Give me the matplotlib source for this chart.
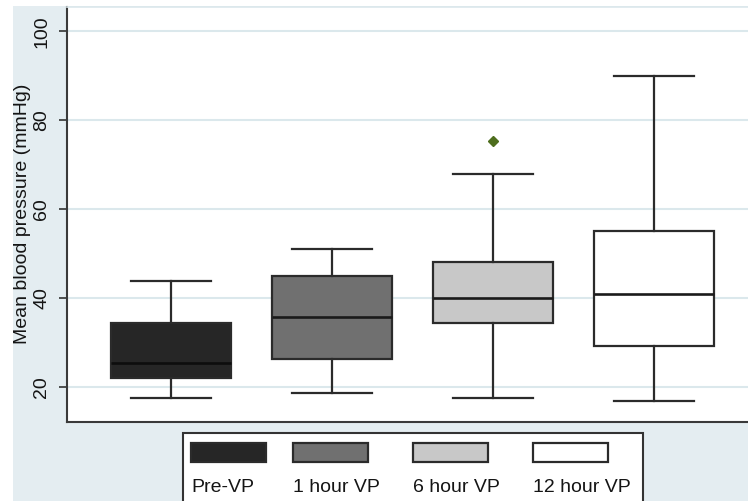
import matplotlib
matplotlib.use("Agg")
import matplotlib.pyplot as plt
from matplotlib.patches import Rectangle

# ---- data ----
categories = ["Pre-VP", "1 hour VP", "6 hour VP", "12 hour VP"]
whisker_low = [17.7, 18.8, 17.7, 17.0]
q1 = [22.1, 26.3, 34.4, 29.3]
median = [25.5, 35.9, 40.0, 41.0]
q3 = [34.4, 45.1, 48.2, 55.2]
whisker_high = [44.0, 51.0, 68.0, 90.0]
outliers = [[], [], [75.3], []]
yticks = [20, 40, 60, 80, 100]

# ---- styles ----
fills = ["#262626", "#707070", "#c8c8c8", "#ffffff"]
edge = "#2b2b2b"
bg = "#e4edf1"
grid_c = "#dbe8ec"
text_c = "#151515"
W, H = 748, 501

plt.rcParams["font.family"] = ["Liberation Sans", "DejaVu Sans"]
plt.rcParams["font.size"] = 14

fig = plt.figure(figsize=(W / 100, H / 100), dpi=100, facecolor="white")
# light blue graph region
fig.add_artist(Rectangle((13 / W, 0), 1 - 13 / W, (H - 6) / H,
                         transform=fig.transFigure, facecolor=bg,
                         edgecolor="none", zorder=-10))

ax_l, ax_r, ax_t, ax_b = 66.7, 748, 6.5, 421.7
ax = fig.add_axes([ax_l / W, (H - ax_b) / H, (ax_r - ax_l) / W, (ax_b - ax_t) / H])
ax.set_facecolor("white")

stats = []
for i, c in enumerate(categories):
    stats.append(dict(label=c, whislo=whisker_low[i], q1=q1[i], med=median[i],
                      q3=q3[i], whishi=whisker_high[i], fliers=outliers[i]))

positions = list(range(1, len(categories) + 1))
bp = ax.bxp(stats, positions=positions, widths=0.75, capwidths=0.5,
            patch_artist=True, showfliers=True,
            boxprops=dict(edgecolor=edge, linewidth=1.6),
            medianprops=dict(color="#1a1a1a", linewidth=1.9),
            whiskerprops=dict(color=edge, linewidth=1.6),
            capprops=dict(color=edge, linewidth=1.6),
            flierprops=dict(marker="D", markersize=5.5, markerfacecolor="#4e6e1e",
                            markeredgecolor="#4e6e1e"))
for patch, f in zip(bp["boxes"], fills):
    patch.set_facecolor(f)
bp["medians"][0].set_color("#0d0d0d")

ax.set_xlim(0.352, 4.584)
ax.set_ylim(12.3, 105.6)
ax.set_xticks([])
ax.set_yticks(yticks)
ax.set_yticklabels([str(t) for t in yticks])
ax.yaxis.grid(True, color=grid_c, linewidth=1.5)
ax.set_axisbelow(True)
ax.tick_params(axis="y", length=6, width=1.2, color="#333333", pad=6,
               labelrotation=90, labelcolor=text_c)
for lbl in ax.get_yticklabels():
    lbl.set_va("center")
ax.set_ylabel("Mean blood pressure (mmHg)", color=text_c, labelpad=1.5)

ax.spines["left"].set_color("#3a3a3a")
ax.spines["left"].set_linewidth(1.5)
ax.spines["bottom"].set_color("#3a3a3a")
ax.spines["bottom"].set_linewidth(1.5)
ax.spines["top"].set_color(grid_c)
ax.spines["top"].set_linewidth(1.2)
ax.spines["right"].set_visible(False)

# ---- legend (patches above labels, Stata style) ----
leg_left, leg_right, leg_top = 182.7, 643, 433
fig.add_artist(Rectangle((leg_left / W, -0.05), (leg_right - leg_left) / W,
                         (H - leg_top) / H + 0.05, transform=fig.transFigure,
                         facecolor="white", edgecolor="#333333", linewidth=1.5))
col_x = [191, 293, 413, 533]
key_w, key_top, key_bot = 74.5, 443, 462
for cx, f, c in zip(col_x, fills, categories):
    fig.add_artist(Rectangle((cx / W, (H - key_bot) / H), key_w / W,
                             (key_bot - key_top) / H, transform=fig.transFigure,
                             facecolor=f, edgecolor=edge, linewidth=1.6))
    fig.text(cx / W, (H - 492) / H, c, ha="left", va="baseline",
             color=text_c, fontsize=14)

fig.savefig("out.png", dpi=100, facecolor="white")
